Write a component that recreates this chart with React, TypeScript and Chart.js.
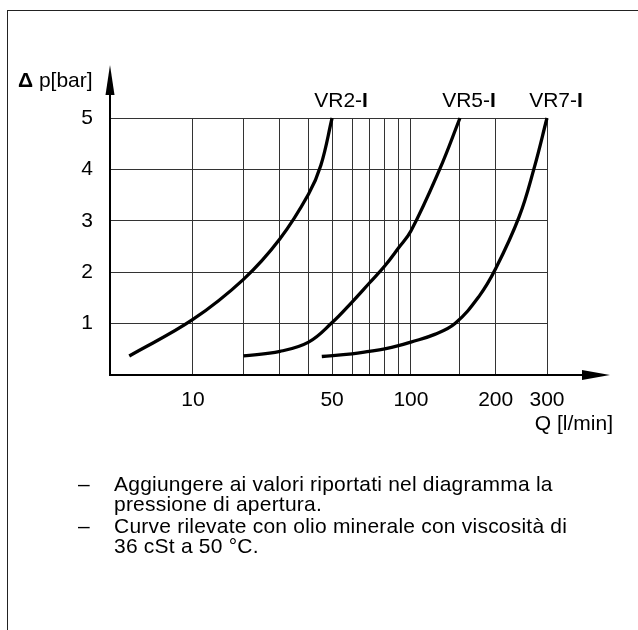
import React, { useEffect, useRef } from 'react';
import { Chart, registerables, LinearScale } from 'chart.js';

Chart.register(...registerables);

// ---------- data ----------
const X_GRID = [0, 10, 20, 30, 40, 50, 60, 70, 80, 90, 100, 150, 200, 300];
const X_LABELS = [10, 50, 100, 200, 300];
const Y_TICKS = [1, 2, 3, 4, 5];

const VR2_Q = [1.8, 10, 20, 30, 40, 45, 50];
const VR2_P = [0.37, 1.08, 1.86, 2.65, 3.52, 4.08, 5.0];

const VR5_Q = [20, 30, 40, 50, 60, 70, 80, 90, 100, 127, 150];
const VR5_P = [0.37, 0.46, 0.64, 1.02, 1.42, 1.79, 2.12, 2.47, 2.8, 4.0, 5.0];

const VR7_Q = [45.4, 60, 70, 80, 90, 100, 122, 144, 175, 200, 241, 271, 300];
const VR7_P = [0.36, 0.41, 0.46, 0.51, 0.57, 0.64, 0.79, 1.0, 1.53, 2.07, 3.08, 4.02, 5.0];

const SERIES_NAMES = ['VR2-', 'VR5-', 'VR7-'];
const SERIES_SUFFIX = 'I';

const NOTES = [
  ['Aggiungere ai valori riportati nel diagramma la', 'pressione di apertura.'],
  ['Curve rilevate con olio minerale con viscosità di', '36 cSt a 50 °C.'],
];

const Y_TITLE_SYMBOL = 'Δ';
const Y_TITLE = ' p[bar]';
const X_TITLE = 'Q [l/min]';

// ---------- custom shifted-log scale ----------
const Q_OFFSET = 11.5;

class ShiftedLogScale extends (LinearScale as any) {
  static id = 'shiftedLog';
  static defaults = {};
  configure() {
    super.configure();
    (this as any)._lmin = Math.log10((this as any).min + Q_OFFSET);
    (this as any)._lrange = Math.log10((this as any).max + Q_OFFSET) - (this as any)._lmin;
  }
  getPixelForValue(value: any) {
    if (value === null || value === undefined || isNaN(value)) return NaN;
    const self = this as any;
    return self.getPixelForDecimal((Math.log10(value + Q_OFFSET) - self._lmin) / self._lrange);
  }
  getValueForPixel(pixel: number) {
    const self = this as any;
    return Math.pow(10, self._lmin + self.getDecimalForPixel(pixel) * self._lrange) - Q_OFFSET;
  }
}
Chart.register(ShiftedLogScale as any);

const FONT = '"Liberation Sans", Arial, Helvetica, sans-serif';
const FS = 21;
const GRID_COLOR = '#333';

const toPts = (qs: number[], ps: number[]) => qs.map((q, i) => ({ x: q, y: ps[i] }));

const overlayPlugin = {
  id: 'overlay',
  afterDraw(chart: any) {
    const { ctx, chartArea: a, scales } = chart;
    const xs = scales.x;
    const ys = scales.y;
    ctx.save();
    ctx.strokeStyle = '#000';
    ctx.fillStyle = '#000';
    ctx.lineWidth = 2;
    // y axis with arrow
    const yTip = a.top - 53;
    ctx.beginPath();
    ctx.moveTo(a.left, a.bottom + 1);
    ctx.lineTo(a.left, yTip + 20);
    ctx.stroke();
    ctx.beginPath();
    ctx.moveTo(a.left, yTip);
    ctx.lineTo(a.left - 4.5, yTip + 30);
    ctx.lineTo(a.left + 4.5, yTip + 30);
    ctx.closePath();
    ctx.fill();
    // x axis with arrow
    const xTip = a.right + 63;
    ctx.beginPath();
    ctx.moveTo(a.left - 1, a.bottom);
    ctx.lineTo(xTip - 20, a.bottom);
    ctx.stroke();
    ctx.beginPath();
    ctx.moveTo(xTip, a.bottom);
    ctx.lineTo(xTip - 28, a.bottom - 5);
    ctx.lineTo(xTip - 28, a.bottom + 5);
    ctx.closePath();
    ctx.fill();

    // series labels
    ctx.textBaseline = 'alphabetic';
    ctx.textAlign = 'left';
    chart.data.datasets.forEach((ds: any, i: number) => {
      const last = ds.data[ds.data.length - 1];
      const cx = xs.getPixelForValue(last.x) + 9;
      const by = ys.getPixelForValue(last.y) - 11;
      ctx.font = `${FS}px ${FONT}`;
      const w1 = ctx.measureText(SERIES_NAMES[i]).width;
      ctx.font = `bold ${FS}px ${FONT}`;
      const w2 = ctx.measureText(SERIES_SUFFIX).width;
      const sx = cx - (w1 + w2) / 2;
      ctx.font = `${FS}px ${FONT}`;
      ctx.fillText(SERIES_NAMES[i], sx, by);
      ctx.font = `bold ${FS}px ${FONT}`;
      ctx.fillText(SERIES_SUFFIX, sx + w1, by);
    });

    // y title
    ctx.font = `bold ${FS}px ${FONT}`;
    ctx.fillText(Y_TITLE_SYMBOL, 18, a.top - 31);
    const wd = ctx.measureText(Y_TITLE_SYMBOL).width;
    ctx.font = `${FS}px ${FONT}`;
    ctx.fillText(Y_TITLE, 18 + wd, a.top - 31);

    // x title
    ctx.textAlign = 'right';
    ctx.fillText(X_TITLE, a.right + 66, a.bottom + 55);
    ctx.restore();
  },
};

export default function App() {
  const ref = useRef<HTMLCanvasElement | null>(null);
  useEffect(() => {
    if (!ref.current) return;
    const lineDs = (label: string, qs: number[], ps: number[]) => ({
      label,
      data: toPts(qs, ps),
      borderColor: '#000',
      borderWidth: 3.3,
      pointRadius: 0,
      fill: false,
      tension: 0.4,
      cubicInterpolationMode: 'default' as const,
      borderCapStyle: 'butt' as const,
      clip: false as any,
    });
    const chart = new Chart(ref.current, {
      type: 'line',
      data: {
        datasets: [
          lineDs('VR2-I', VR2_Q, VR2_P),
          lineDs('VR5-I', VR5_Q, VR5_P),
          lineDs('VR7-I', VR7_Q, VR7_P),
        ],
      },
      options: {
        responsive: false,
        animation: false,
        devicePixelRatio: 1,
        layout: { padding: { left: 50, top: 118, right: 91, bottom: 215 } },
        plugins: { legend: { display: false }, tooltip: { enabled: false } },
        scales: {
          x: {
            type: 'shiftedLog' as any,
            min: 0,
            max: 300,
            bounds: 'data',
            afterBuildTicks: (s: any) => {
              s.ticks = X_GRID.map((v) => ({ value: v }));
            },
            afterFit: (s: any) => {
              s.height = 40;
            },
            grid: { color: GRID_COLOR, lineWidth: 1, drawTicks: false },
            border: { display: false },
            ticks: {
              autoSkip: false,
              maxRotation: 0,
              minRotation: 0,
              padding: 13,
              color: '#000',
              font: { family: FONT, size: FS },
              callback: (v: any) => (X_LABELS.includes(Number(v)) ? String(v) : ''),
            },
          } as any,
          y: {
            type: 'linear',
            min: 0,
            max: 5,
            afterBuildTicks: (s: any) => {
              s.ticks = [0, ...Y_TICKS].map((v) => ({ value: v }));
            },
            afterFit: (s: any) => {
              s.width = 60;
            },
            grid: { color: GRID_COLOR, lineWidth: 1, drawTicks: false },
            border: { display: false },
            ticks: {
              padding: 17,
              color: '#000',
              font: { family: FONT, size: FS },
              callback: (v: any) => (Y_TICKS.includes(Number(v)) ? String(v) : ''),
            },
          },
        },
      },
      plugins: [overlayPlugin],
    });
    return () => chart.destroy();
  }, []);

  return (
    <div
      style={{
        position: 'absolute',
        left: 0,
        top: 0,
        width: 638,
        height: 630,
        overflow: 'hidden',
        background: '#fff',
        fontFamily: FONT,
      }}
    >
      <div
        style={{
          position: 'absolute',
          left: 7,
          top: 10,
          right: -5,
          bottom: -5,
          borderTop: '1px solid #222',
          borderLeft: '1px solid #222',
        }}
      />
      <canvas ref={ref} width={638} height={630} style={{ position: 'absolute', left: 0, top: 0 }} />
      <div
        style={{
          position: 'absolute',
          left: 78,
          top: 474,
          fontSize: FS,
          lineHeight: '20px',
          color: '#000',
        }}
      >
        {NOTES.map((lines, i) => (
          <div key={i} style={{ display: 'flex', marginBottom: 2 }}>
            <span style={{ width: 36, flex: 'none' }}>–</span>
            <span style={{ whiteSpace: 'nowrap', letterSpacing: '0.22px' }}>
              {lines.map((l, j) => (
                <React.Fragment key={j}>
                  {l}
                  {j < lines.length - 1 ? <br /> : null}
                </React.Fragment>
              ))}
            </span>
          </div>
        ))}
      </div>
    </div>
  );
}
